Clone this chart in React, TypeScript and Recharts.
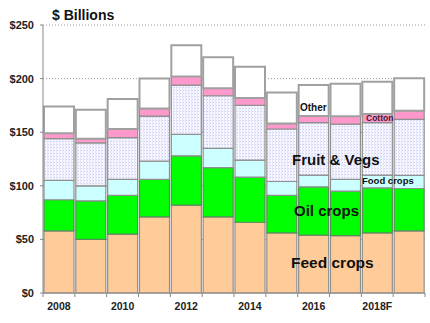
import { BarChart, Bar, XAxis, YAxis, CartesianGrid } from 'recharts';

const years = ['2008', '2009', '2010', '2011', '2012', '2013', '2014', '2015', '2016', '2017', '2018F', '2019'];
const feedCrops = [58, 50, 55, 71, 82, 71, 66, 56, 54, 53.5, 56, 58];
const oilCrops = [29, 36, 36, 35, 46, 46, 42, 35, 45, 41.5, 42, 39.5];
const foodCrops = [18, 14, 15, 17, 20, 18, 16, 13, 11, 11, 12, 12.3];
const fruitVegs = [39, 40, 39, 42, 46, 49, 51, 49, 49, 51.5, 49, 52.2];
const cotton = [5, 4, 8, 7, 8, 7, 7, 5, 6, 7.3, 8, 8];
const other = [25, 27, 28, 28, 29, 29, 29, 29, 29, 30.4, 30, 30.3];
const yTicks = [0, 50, 100, 150, 200, 250];

const data = years.map((year, i) => ({
  year,
  feed: feedCrops[i],
  oil: oilCrops[i],
  food: foodCrops[i],
  fruit: fruitVegs[i],
  cotton: cotton[i],
  other: other[i],
}));

const font = '"Liberation Sans", Arial, sans-serif';
const BAND = 382 / years.length;

function XTick(props: any) {
  const { x, y, payload, index } = props;
  const half = BAND / 2;
  return (
    <g>
      <line x1={x - half} y1={y} x2={x - half} y2={y + 4} stroke="#888" />
      {index === years.length - 1 && <line x1={x + half} y1={y} x2={x + half} y2={y + 4} stroke="#888" />}
      {index % 2 === 0 && (
        <text x={x} y={y + 17} textAnchor="middle" fontSize={10.5} fontWeight="bold" fill="#222" fontFamily={font}>
          {payload.value}
        </text>
      )}
    </g>
  );
}

const label = (text: string, left: number, top: number, size: number, color = '#111') => (
  <div
    style={{
      position: 'absolute',
      left,
      top,
      fontSize: size,
      fontWeight: 'bold',
      fontFamily: font,
      color,
      whiteSpace: 'nowrap',
      lineHeight: 1,
      pointerEvents: 'none',
    }}
  >
    {text}
  </div>
);

export default function App() {
  const stroke = '#8f8f8f';
  return (
    <div style={{ position: 'absolute', left: 0, top: 0, width: 430, height: 323, background: '#fff', fontFamily: font }}>
      <BarChart
        width={430}
        height={323}
        data={data}
        margin={{ top: 25, right: 5, bottom: 8, left: 0 }}
        barCategoryGap={1}
      >
        <defs>
          <pattern id="dots" width="3" height="3" patternUnits="userSpaceOnUse">
            <rect width="3" height="3" fill="#f7f7ff" />
            <rect width="1" height="1" fill="#cacaf2" />
            <rect x="2" y="0" width="1" height="3" fill="#e6e6fb" />
          </pattern>
        </defs>
        <CartesianGrid vertical={false} stroke="#999" strokeDasharray="1 2" />
        <XAxis
          dataKey="year"
          interval={0}
          tickSize={0}
          tickMargin={0}
          height={22}
          stroke="#888"
          tick={<XTick />}
        />
        <YAxis
          width={43}
          domain={[0, 250]}
          ticks={yTicks}
          tickFormatter={(v: number) => `$${v}`}
          tickSize={3}
          tickMargin={6}
          stroke="#888"
          tick={{ fontSize: 11, fontWeight: 'bold', fill: '#222', fontFamily: font }}
        />
        <Bar dataKey="feed" stackId="a" fill="#ffcc99" stroke={stroke} strokeWidth={1.2} isAnimationActive={false} />
        <Bar dataKey="oil" stackId="a" fill="#00ff00" stroke="#5a8a5a" strokeWidth={1.2} isAnimationActive={false} />
        <Bar dataKey="food" stackId="a" fill="#ccffff" stroke={stroke} strokeWidth={1.2} isAnimationActive={false} />
        <Bar dataKey="fruit" stackId="a" fill="url(#dots)" stroke={stroke} strokeWidth={1.2} isAnimationActive={false} />
        <Bar dataKey="cotton" stackId="a" fill="#ff99cc" stroke={stroke} strokeWidth={1.2} isAnimationActive={false} />
        <Bar dataKey="other" stackId="a" fill="#ffffff" stroke="#a0a0a0" strokeWidth={2} isAnimationActive={false} />
      </BarChart>
      {label('$ Billions', 52, 8, 14)}
      {label('Other', 300, 103, 10)}
      {label('Cotton', 366, 114, 8.5, '#3a2030')}
      {label('Fruit & Vegs', 292, 152, 15)}
      {label('Food crops', 362, 176, 9.5)}
      {label('Oil crops', 294, 203, 15)}
      {label('Feed crops', 291, 255, 15.5)}
    </div>
  );
}
